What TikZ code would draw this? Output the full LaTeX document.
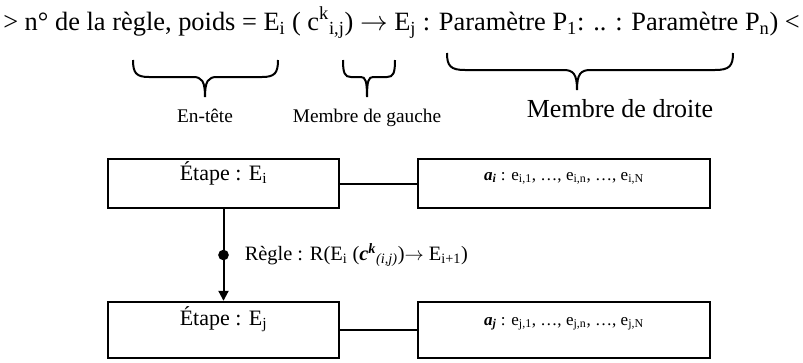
\documentclass[tikz,border=0pt]{standalone}
\usepackage{fontspec}
\setmainfont{Liberation Serif}
\usetikzlibrary{arrows.meta}

% accolade : #1 bord gauche, #2 pointe, #3 bord droit, #4 rayon des boucles, #5 hauteur des bouts
\newcommand{\accolade}[5]{%
  \draw[trait] (#1,#5) .. controls (#1,#5+13) and (#1+0.2*#4,#5+17) .. (#1+#4,#5+17)
    -- (#2-0.75*#4,#5+17) .. controls (#2-0.2*#4,#5+17) and (#2,#5+21) .. (#2,#5+37)
    .. controls (#2,#5+21) and (#2+0.2*#4,#5+17) .. (#2+0.75*#4,#5+17)
    -- (#3-#4,#5+17) .. controls (#3-0.2*#4,#5+17) and (#3,#5+13) .. (#3,#5);}

\begin{document}
\begin{tikzpicture}[x=0.75pt,y=-0.75pt,
  trait/.style={line width=1.5pt},
  boite/.style={draw,line width=1.8pt,inner sep=0pt,font=\fontsize{16.5}{19}\selectfont},
  haut/.style={minimum height=36.75pt,text height=15.75pt,text depth=21pt},
  bas/.style={minimum height=42pt,text height=17.25pt,text depth=24.75pt},
  liste/.style={font=\fontsize{12.8}{15}\selectfont},
  lien/.style={line width=1.5pt},
  fleche/.style={line width=1.5pt,-{Triangle[length=7.5pt,width=7.5pt]}}]
\useasboundingbox (0,0) rectangle (803,362);

\node[anchor=base west,inner sep=0pt,font=\fontsize{19.8}{22}\selectfont] (titre) at (3,30)
  {> n° de la règle, poids = E\textsubscript{i} ( c\textsuperscript{k}\textsubscript{i,j}) $\rightarrow$ E\textsubscript{j} : Paramètre P\textsubscript{1}: .. : Paramètre P\textsubscript{n}) <};

\accolade{133}{205}{278}{16}{60}
\accolade{343}{367}{395}{8}{60}
\accolade{447}{577}{733}{18}{53}

\node[anchor=base,font=\fontsize{14.5}{17}\selectfont] (entete) at (205,122) {En-tête};
\node[anchor=base,font=\fontsize{14.5}{17}\selectfont] (gauche) at (367,122) {Membre de gauche};
\node[anchor=base,font=\fontsize{19.5}{22}\selectfont] (droite) at (620,117) {Membre de droite};

\node[boite,haut,minimum width=173pt] (etapeI) at (223.5,183.5) {Étape : E\textsubscript{i}};
\node[boite,haut,liste,minimum width=219pt] (attrI) at (564,183.5)
  {\textbf{\textit{a\textsubscript{i}}} : e\textsubscript{i,1}, …, e\textsubscript{i,n}, …, e\textsubscript{i,N}};
\draw[lien] (etapeI) -- (attrI);

\node[boite,bas,minimum width=173pt] (etapeJ) at (223.5,330) {Étape : E\textsubscript{j}};
\node[boite,bas,liste,minimum width=219pt] (attrJ) at (564,330)
  {\textbf{\textit{a\textsubscript{j}}} : e\textsubscript{j,1}, …, e\textsubscript{j,n}, …, e\textsubscript{j,N}};
\draw[lien] (etapeJ) -- (attrJ);

\draw[fleche] (etapeI.south) -- node[midway,circle,fill,inner sep=0pt,minimum size=8pt] (pointR) {} (etapeJ.north);
\node[anchor=west,inner sep=0pt,font=\fontsize{15.3}{18}\selectfont] (regle) at ([xshift=11pt]pointR.east)
  {Règle : R(E\textsubscript{i} (\textbf{\textit{c}}\textsuperscript{\textbf{\textit{k}}}\textsubscript{\textit{(i,j)}})$\rightarrow$ E\textsubscript{i+1})};
\end{tikzpicture}
\end{document}
